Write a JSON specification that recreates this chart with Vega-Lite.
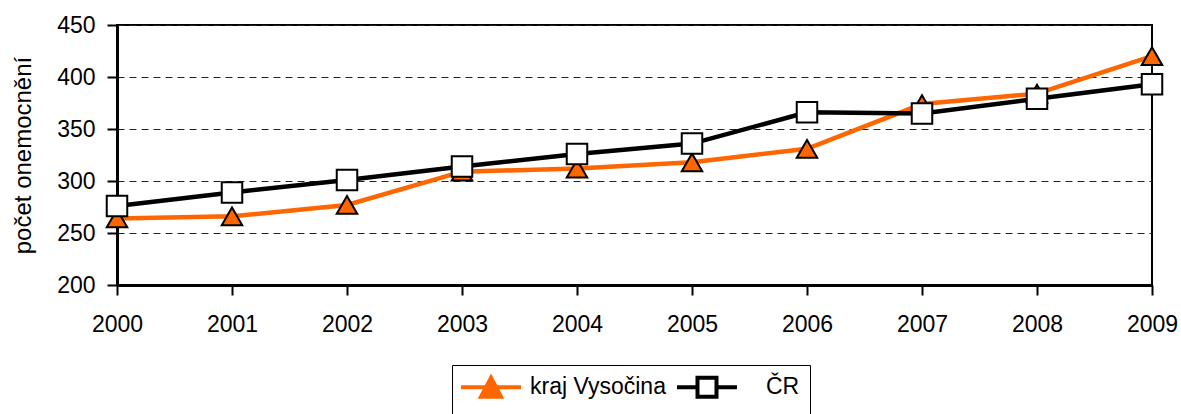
{
  "$schema": "https://vega.github.io/schema/vega-lite/v6.json",
  "autosize": {"type": "none"},
  "width": 1035,
  "height": 260,
  "padding": {"left": 117, "top": 25, "right": 29, "bottom": 129},
  "background": "white",
  "config": {
    "font": "Liberation Sans",
    "view": {"stroke": "black", "strokeWidth": 2},
    "axis": {"labelFont": "Liberation Sans", "titleFont": "Liberation Sans", "labelColor": "black", "titleColor": "black"}
  },
  "data": {
    "values": [
      {"year": "2000", "series": "kraj Vysočina", "value": 264},
      {"year": "2001", "series": "kraj Vysočina", "value": 266},
      {"year": "2002", "series": "kraj Vysočina", "value": 277},
      {"year": "2003", "series": "kraj Vysočina", "value": 309},
      {"year": "2004", "series": "kraj Vysočina", "value": 312},
      {"year": "2005", "series": "kraj Vysočina", "value": 318},
      {"year": "2006", "series": "kraj Vysočina", "value": 331},
      {"year": "2007", "series": "kraj Vysočina", "value": 374},
      {"year": "2008", "series": "kraj Vysočina", "value": 384},
      {"year": "2009", "series": "kraj Vysočina", "value": 420},
      {"year": "2000", "series": "ČR", "value": 276},
      {"year": "2001", "series": "ČR", "value": 289},
      {"year": "2002", "series": "ČR", "value": 301},
      {"year": "2003", "series": "ČR", "value": 314},
      {"year": "2004", "series": "ČR", "value": 326},
      {"year": "2005", "series": "ČR", "value": 336},
      {"year": "2006", "series": "ČR", "value": 366},
      {"year": "2007", "series": "ČR", "value": 365},
      {"year": "2008", "series": "ČR", "value": 379},
      {"year": "2009", "series": "ČR", "value": 393}
    ]
  },
  "encoding": {
    "x": {
      "field": "year", "type": "ordinal",
      "scale": {"type": "point", "padding": 0},
      "axis": {
        "title": null, "labelAngle": 0, "labelFontSize": 23, "labelPadding": 18,
        "tickSize": 10, "tickWidth": 2, "tickColor": "black",
        "domainColor": "black", "domainWidth": 3, "grid": false
      }
    },
    "y": {
      "field": "value", "type": "quantitative",
      "scale": {"domain": [200, 450], "nice": false, "zero": false},
      "axis": {
        "title": "počet onemocnění", "titleFontSize": 24, "titleFontWeight": "normal", "titlePadding": 21,
        "values": [200, 250, 300, 350, 400, 450],
        "labelFontSize": 23, "labelPadding": 12,
        "tickSize": 10, "tickWidth": 2, "tickColor": "black",
        "domainColor": "black", "domainWidth": 3,
        "grid": true, "gridColor": "#222222", "gridDash": [7, 5], "gridWidth": 1
      }
    }
  },
  "layer": [
    {
      "mark": {"type": "line", "strokeWidth": 4.5},
      "encoding": {
        "stroke": {
          "field": "series", "type": "nominal",
          "scale": {"domain": ["kraj Vysočina", "ČR"], "range": ["#FF6600", "#000000"]},
          "legend": {
            "title": null, "orient": "none", "legendX": 335, "legendY": 340,
            "direction": "horizontal",
            "strokeColor": "black", "fillColor": "white",
            "padding": 10,
            "labelFontSize": 23, "labelFont": "Liberation Sans", "labelColor": "black",
            "symbolSize": 400, "symbolStrokeWidth": 4, "symbolOffset": 17, "labelOffset": 27,
            "columnPadding": 3,
            "encode": {
              "symbols": {
                "update": {
                  "shape": {"signal": "datum.value === 'ČR' ? 'M-3,0H-0.95M0.95,0H3M-0.95,-0.95H0.95V0.95H-0.95Z' : 'M-3,0H-0.5M0.5,0H3M0,-0.95L1,0.95H-1Z'"},
                  "fill": {"signal": "datum.value === 'ČR' ? 'white' : '#FF6600'"},
                  "fillOpacity": {"value": 1}
                }
              },
              "labels": {
                "update": {
                  "dx": {"signal": "datum.value === 'ČR' ? 20 : 0"}
                }
              }
            }
          }
        }
      }
    },
    {
      "transform": [{"filter": "datum.series === 'kraj Vysočina'"}],
      "mark": {"type": "point", "shape": "triangle-up", "filled": true, "fill": "#FF6600", "stroke": "black", "strokeWidth": 2, "size": 420, "opacity": 1}
    },
    {
      "transform": [{"filter": "datum.series === 'ČR'"}],
      "mark": {"type": "point", "shape": "square", "filled": true, "fill": "white", "stroke": "black", "strokeWidth": 2, "size": 420, "opacity": 1}
    }
  ]
}
